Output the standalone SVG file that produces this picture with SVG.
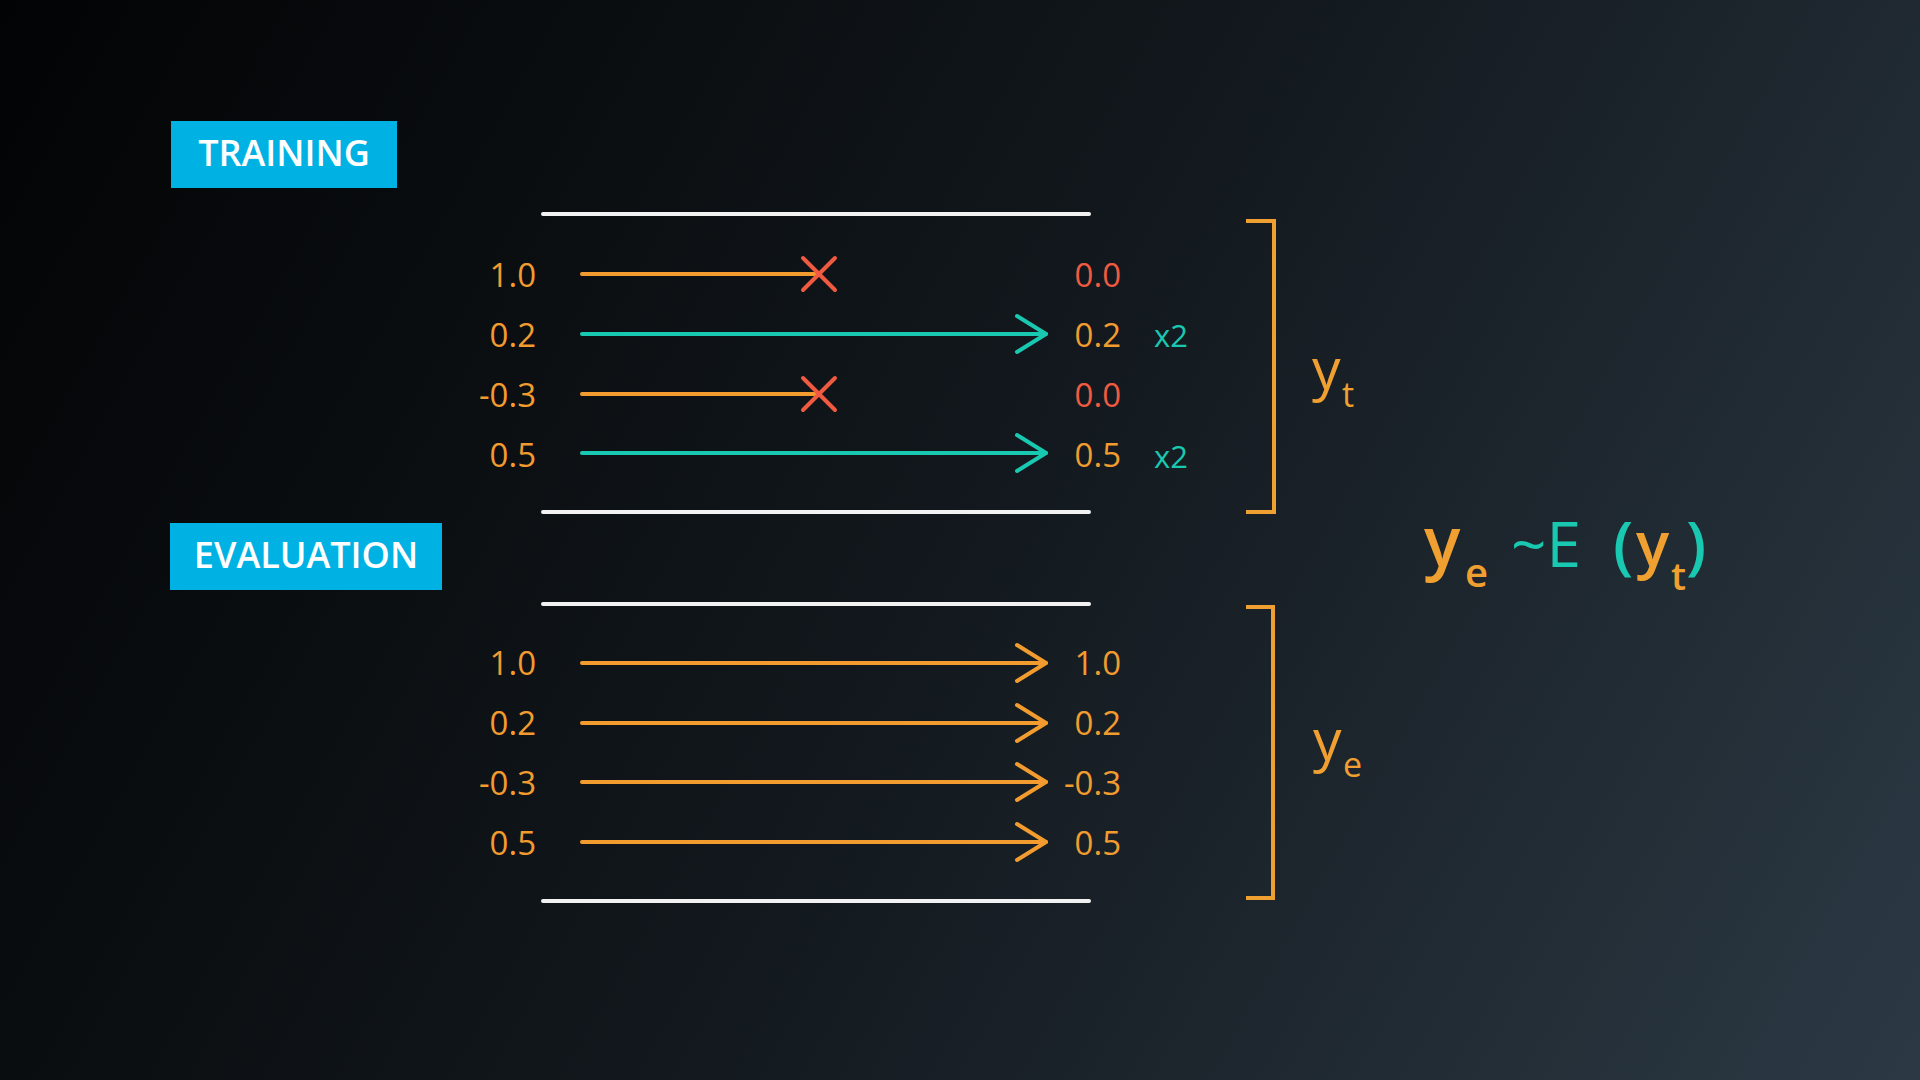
<svg xmlns="http://www.w3.org/2000/svg" width="1920" height="1080" viewBox="0 0 1920 1080">
<defs>
<linearGradient id="bg" gradientUnits="userSpaceOnUse" x1="0" y1="0" x2="1920" y2="1080">
<stop offset="0" stop-color="#020304"/>
<stop offset="0.5" stop-color="#12181d"/>
<stop offset="1" stop-color="#2c3944"/>
</linearGradient>
<marker id="ah-o" markerUnits="userSpaceOnUse" viewBox="-34 -22 38 44" refX="0" refY="0" markerWidth="38" markerHeight="44" orient="auto" overflow="visible">
<path d="M-29,-18 L0,0 L-29,18" fill="none" stroke="#f29b2f" stroke-width="4" stroke-linecap="round" stroke-linejoin="round"/>
</marker>
<marker id="ah-t" markerUnits="userSpaceOnUse" viewBox="-34 -22 38 44" refX="0" refY="0" markerWidth="38" markerHeight="44" orient="auto" overflow="visible">
<path d="M-29,-18 L0,0 L-29,18" fill="none" stroke="#19c8b0" stroke-width="4" stroke-linecap="round" stroke-linejoin="round"/>
</marker>
</defs>
<style>
text{font-family:"Open Sans","Noto Sans","Liberation Sans",sans-serif}
.hdr{fill:#00b2e3}
.hdrt{fill:#ffffff;font-size:36px;font-weight:600;text-anchor:middle}
.sep{stroke:#f2f2f2;stroke-width:4;stroke-linecap:round}
.num{font-size:33px;fill:#f29b2f}
.lft{text-anchor:end}
.red{fill:#f05a40}
.teal{fill:#19c8b0}
.mul{font-size:31px;fill:#19c8b0}
.ao{stroke:#f29b2f;stroke-width:4;stroke-linecap:round;fill:none}
.at{stroke:#19c8b0;stroke-width:4;stroke-linecap:round;fill:none}
.x{stroke:#f05a40;stroke-width:4;stroke-linecap:round}
.br{stroke:#f0a030;stroke-width:4;fill:none}
.sym{fill:#f0a030}
.f{font-weight:600}
</style>
<rect width="1920" height="1080" fill="url(#bg)"/>

<g id="training-label">
<rect class="hdr" x="171" y="121" width="226" height="67"/>
<text class="hdrt" x="284" y="166">TRAINING</text>
</g>
<g id="evaluation-label">
<rect class="hdr" x="170" y="523" width="272" height="67"/>
<text class="hdrt" x="306" y="568">EVALUATION</text>
</g>

<g id="separators">
<line class="sep" x1="543" y1="214" x2="1089" y2="214"/>
<line class="sep" x1="543" y1="512" x2="1089" y2="512"/>
<line class="sep" x1="543" y1="604" x2="1089" y2="604"/>
<line class="sep" x1="543" y1="901" x2="1089" y2="901"/>
</g>

<g id="training-inputs">
<text class="num lft" x="536" y="287">1.0</text>
<text class="num lft" x="536" y="347">0.2</text>
<text class="num lft" x="536" y="407">-0.3</text>
<text class="num lft" x="536" y="467">0.5</text>
</g>
<g id="training-outputs">
<text class="num lft red" x="1121" y="287">0.0</text>
<text class="num lft" x="1121" y="347">0.2</text>
<text class="num lft red" x="1121" y="407">0.0</text>
<text class="num lft" x="1121" y="467">0.5</text>
<text class="mul" x="1154" y="347">x2</text>
<text class="mul" x="1154" y="468">x2</text>
</g>

<g id="evaluation-inputs">
<text class="num lft" x="536" y="675">1.0</text>
<text class="num lft" x="536" y="735">0.2</text>
<text class="num lft" x="536" y="795">-0.3</text>
<text class="num lft" x="536" y="855">0.5</text>
</g>
<g id="evaluation-outputs">
<text class="num lft" x="1121" y="675">1.0</text>
<text class="num lft" x="1121" y="735">0.2</text>
<text class="num lft" x="1121" y="795">-0.3</text>
<text class="num lft" x="1121" y="855">0.5</text>
</g>

<g id="connectors">
<line class="ao" x1="582" y1="274" x2="817" y2="274"/>
<line class="x" x1="803" y1="258" x2="835" y2="290"/>
<line class="x" x1="835" y1="258" x2="803" y2="290"/>
<line class="at" x1="582" y1="334" x2="1046" y2="334" marker-end="url(#ah-t)"/>
<line class="ao" x1="582" y1="394" x2="817" y2="394"/>
<line class="x" x1="803" y1="378" x2="835" y2="410"/>
<line class="x" x1="835" y1="378" x2="803" y2="410"/>
<line class="at" x1="582" y1="453" x2="1046" y2="453" marker-end="url(#ah-t)"/>

<line class="ao" x1="582" y1="663" x2="1046" y2="663" marker-end="url(#ah-o)"/>
<line class="ao" x1="582" y1="723" x2="1046" y2="723" marker-end="url(#ah-o)"/>
<line class="ao" x1="582" y1="782" x2="1046" y2="782" marker-end="url(#ah-o)"/>
<line class="ao" x1="582" y1="842" x2="1046" y2="842" marker-end="url(#ah-o)"/>
</g>

<g id="bracket-training">
<path class="br" d="M1246,221 H1274 V512 H1246"/>
<text class="sym" x="1312" y="389" font-size="57">y</text>
<text class="sym" x="1342" y="407" font-size="34">t</text>
</g>
<g id="bracket-evaluation">
<path class="br" d="M1246,607 H1273 V898 H1246"/>
<text class="sym" x="1313" y="760" font-size="57">y</text>
<text class="sym" x="1343" y="777" font-size="34">e</text>
</g>

<g id="formula">
<text class="sym f" x="1424" y="566" font-size="68">y</text>
<text class="sym f" x="1465" y="587" font-size="40">e</text>
<text class="teal" x="1511" y="567" font-size="62">~E</text>
<text class="teal f" x="1613" y="567" font-size="64">(</text>
<text class="sym f" x="1636" y="566" font-size="62">y</text>
<text class="sym f" x="1671" y="590" font-size="38">t</text>
<text class="teal f" x="1686" y="567" font-size="64">)</text>
</g>
</svg>
